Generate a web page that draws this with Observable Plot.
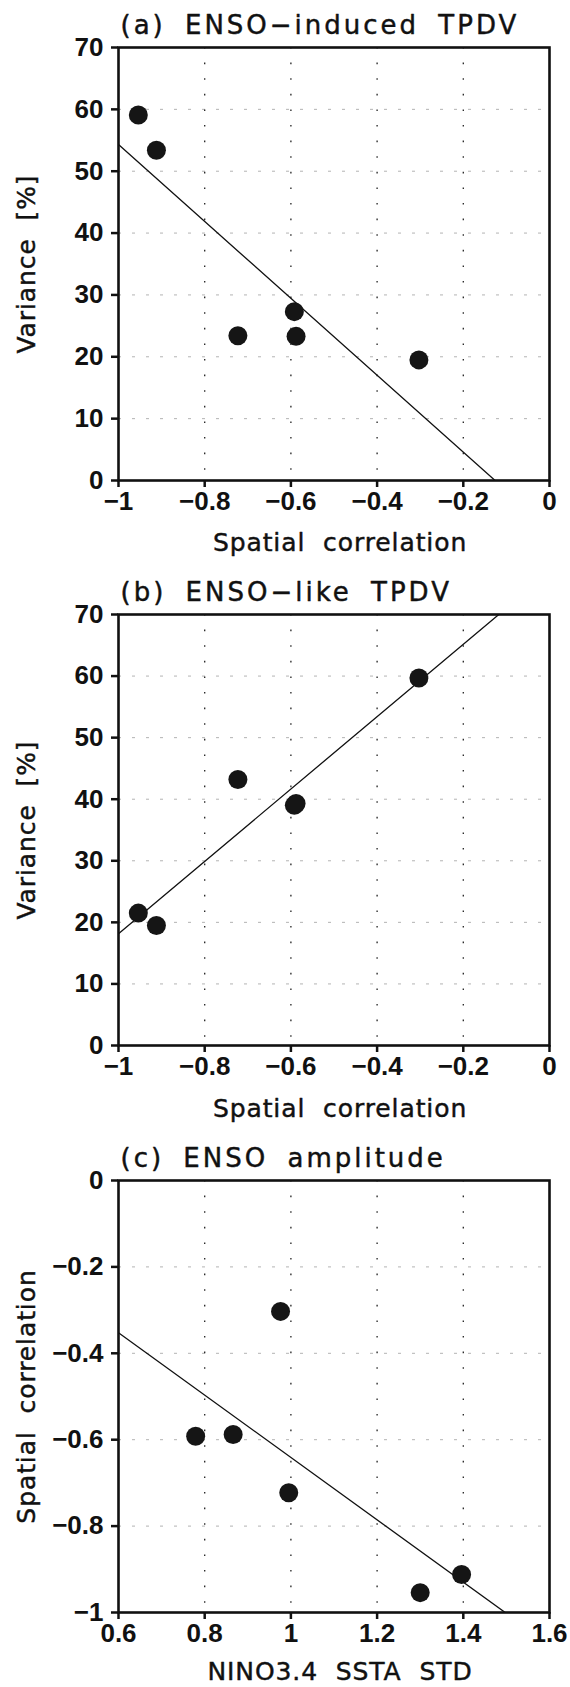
<!DOCTYPE html>
<html>
<head>
<meta charset="utf-8">
<script src="https://cdn.jsdelivr.net/npm/d3@7"></script>
<script src="https://cdn.jsdelivr.net/npm/@observablehq/plot@0.6"></script>
<style>
  html, body { margin: 0; padding: 0; background: #fff; }
  #chart svg { display: block; }
</style>
</head>
<body>
<div id="chart"></div>
<script>
// ---- data ----
const spatialCorr = [-0.954, -0.912, -0.723, -0.592, -0.588, -0.303];   // spatial correlation per model
const varInduced  = [59.1, 53.4, 23.4, 27.3, 23.3, 19.5];               // (a) ENSO-induced TPDV variance [%]
const varLike     = [21.5, 19.5, 43.2, 39.0, 39.3, 59.7];               // (b) ENSO-like TPDV variance [%]
const ninoStd     = [1.300, 1.396, 0.995, 0.779, 0.866, 0.976];         // (c) NINO3.4 SSTA STD

const corrTicks = [-1, -0.8, -0.6, -0.4, -0.2, 0];
const varTicks  = [0, 10, 20, 30, 40, 50, 60, 70];
const stdTicks  = [0.6, 0.8, 1, 1.2, 1.4, 1.6];
const corrTicksY = [0, -0.2, -0.4, -0.6, -0.8, -1];

const titles = ["(a) ENSO\u2212induced TPDV", "(b) ENSO\u2212like TPDV", "(c) ENSO amplitude"];
const xLabels = ["Spatial correlation", "Spatial correlation", "NINO3.4 SSTA STD"];
const yLabels = ["Variance [%]", "Variance [%]", "Spatial correlation"];

// ---- helpers ----
const fmt = d3.format("~g");
function fit(xs, ys) {
  const mx = d3.mean(xs), my = d3.mean(ys);
  let sxy = 0, sxx = 0;
  xs.forEach((x, i) => { sxy += (x - mx) * (ys[i] - my); sxx += (x - mx) ** 2; });
  const b = sxy / sxx;
  return x => my + b * (x - mx);
}

function panel({xs, ys, xDomain, yDomain, xTicks, yTicks, title, xLabel, yLabel, height, marginTop, marginBottom, xLabelDy}) {
  const data = xs.map((x, i) => ({x, y: ys[i]}));
  const f = fit(xs, ys);
  const reg = xDomain.map(x => ({x, y: f(x)}));
  const inner = a => a.filter(v => v !== d3.min(a) && v !== d3.max(a));
  const labelFont = {fontSize: 25, fontFamily: "DejaVu Sans", fill: "#111", stroke: "#111", strokeWidth: 0.45};
  const svg = Plot.plot({
    width: 570,
    height,
    marginTop,
    marginBottom,
    marginLeft: 118,
    marginRight: 21,
    style: {fontFamily: "Liberation Sans", fontSize: "26px", color: "#111", background: "#fff"},
    x: {domain: xDomain},
    y: {domain: yDomain},
    marks: [
      Plot.ruleY(inner(yTicks), {stroke: "#b3b3b3", strokeWidth: 1, strokeDasharray: "3 11"}),
      Plot.ruleX(inner(xTicks), {stroke: "#222", strokeWidth: 1.3, strokeDasharray: "1.6 14"}),
      Plot.line(reg, {x: "x", y: "y", stroke: "#111", strokeWidth: 1.3, clip: true}),
      Plot.dot(data, {x: "x", y: "y", r: 9.5, fill: "#151515", stroke: "none"}),
      Plot.frame({stroke: "#111", strokeWidth: 2.6}),
      Plot.axisX({ticks: xTicks, tickFormat: fmt, tickSize: 7, tickPadding: 4, strokeWidth: 2.5,
                  fontSize: 26, fontWeight: "bold", fontFamily: "Liberation Sans", label: null}),
      Plot.axisY({ticks: yTicks, tickFormat: fmt, tickSize: 7, tickPadding: 8, strokeWidth: 2.5,
                  fontSize: 26, fontWeight: "bold", fontFamily: "Liberation Sans", label: null}),
      Plot.text([title], {frameAnchor: "top-left", dx: 2, dy: -14, lineAnchor: "bottom", textAnchor: "start",
                  ...labelFont, fontSize: 26}),
      Plot.text([xLabel], {frameAnchor: "bottom", dx: 6, dy: xLabelDy, lineAnchor: "bottom", textAnchor: "middle", ...labelFont}),
      Plot.text([yLabel], {frameAnchor: "left", dx: -92, rotate: -90, lineAnchor: "middle", textAnchor: "middle", ...labelFont})
    ]
  });
  const s = d3.select(svg);
  const texts = s.selectAll('g[aria-label="text"] text');
  texts.attr("letter-spacing", "0.9px").attr("word-spacing", "9px");
  texts.filter(function () { return this.textContent === title; })
       .attr("letter-spacing", "3px").attr("word-spacing", "8px");
  return svg;
}

const root = document.getElementById("chart");
root.append(panel({xs: spatialCorr, ys: varInduced, xDomain: [-1, 0], yDomain: [0, 70],
  xTicks: corrTicks, yTicks: varTicks, title: titles[0], xLabel: xLabels[0], yLabel: yLabels[0],
  height: 565, marginTop: 47, marginBottom: 85, xLabelDy: 70}));
root.append(panel({xs: spatialCorr, ys: varLike, xDomain: [-1, 0], yDomain: [0, 70],
  xTicks: corrTicks, yTicks: varTicks, title: titles[1], xLabel: xLabels[1], yLabel: yLabels[1],
  height: 565, marginTop: 49, marginBottom: 85, xLabelDy: 71}));
root.append(panel({xs: ninoStd, ys: spatialCorr, xDomain: [0.6, 1.6], yDomain: [-1, 0],
  xTicks: stdTicks, yTicks: corrTicksY, title: titles[2], xLabel: xLabels[2], yLabel: yLabels[2],
  height: 557, marginTop: 50, marginBottom: 75, xLabelDy: 67}));
</script>
</body>
</html>
